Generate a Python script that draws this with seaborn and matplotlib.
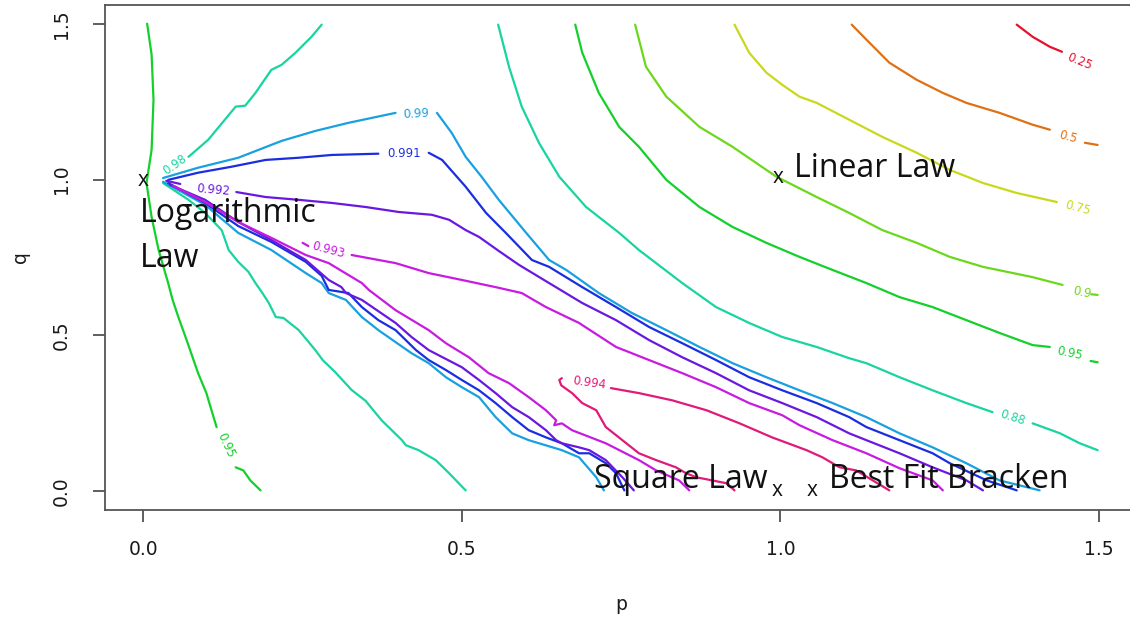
"""Contour map of fit quality over (p, q) with the named laws marked."""

import matplotlib
matplotlib.use("Agg")
import matplotlib.pyplot as plt
import pandas as pd
import seaborn as sns

# contour colours (R rainbow-style, as they look on screen)
LEVEL_COLOURS = {
    "0.25": "#e8102a", "0.5": "#e07014", "0.75": "#c9d81a", "0.9": "#6cd81c",
    "0.95": "#14d02a", "0.98": "#18d4a0", "0.99": "#18a0e0", "0.991": "#1a2ee0",
    "0.992": "#6a18e0", "0.993": "#c81ae0", "0.994": "#e01a78",
}

# contour paths as (p, q) points; a path stops where a label sits
C095_LEFT_A = [(0.006, 1.500), (0.013, 1.401), (0.016, 1.256), (0.013, 1.095), (0.005, 0.989),
               (0.013, 0.880), (0.024, 0.774), (0.039, 0.668), (0.046, 0.614), (0.055, 0.559),
               (0.068, 0.485), (0.086, 0.379), (0.099, 0.315), (0.115, 0.206)]
C095_LEFT_B = [(0.145, 0.077), (0.157, 0.067), (0.168, 0.035), (0.184, 0.003)]

C098_UPPER = [(0.071, 1.073), (0.102, 1.128), (0.145, 1.234), (0.160, 1.237), (0.176, 1.278),
              (0.201, 1.352), (0.217, 1.368), (0.239, 1.407), (0.264, 1.458), (0.280, 1.497)]
C098_LOWER = [(0.031, 0.989), (0.071, 0.935), (0.097, 0.893), (0.123, 0.838), (0.134, 0.774),
              (0.149, 0.736), (0.165, 0.704), (0.176, 0.668), (0.186, 0.639), (0.197, 0.604),
              (0.208, 0.559), (0.220, 0.556), (0.244, 0.517), (0.270, 0.453), (0.282, 0.420),
              (0.300, 0.385), (0.327, 0.325), (0.349, 0.290), (0.374, 0.228), (0.406, 0.164),
              (0.412, 0.148), (0.432, 0.132), (0.459, 0.100), (0.480, 0.058), (0.506, 0.003)]
C098_RIGHT_A = [(0.557, 1.497), (0.574, 1.362), (0.594, 1.234), (0.621, 1.118), (0.653, 1.009),
                (0.695, 0.912), (0.747, 0.829), (0.778, 0.774), (0.846, 0.668), (0.899, 0.591),
                (0.951, 0.540), (1.003, 0.495), (1.057, 0.463), (1.108, 0.427), (1.135, 0.411),
                (1.187, 0.366), (1.239, 0.324), (1.292, 0.283), (1.333, 0.254)]
C098_RIGHT_B = [(1.396, 0.218), (1.439, 0.186), (1.470, 0.154), (1.498, 0.132)]

C095_RIGHT_A = [(0.678, 1.497), (0.689, 1.407), (0.715, 1.278), (0.747, 1.169), (0.778, 1.105),
                (0.821, 0.999), (0.873, 0.912), (0.925, 0.848), (0.978, 0.797), (1.030, 0.752),
                (1.082, 0.710), (1.135, 0.668), (1.187, 0.623), (1.239, 0.591), (1.292, 0.549),
                (1.344, 0.508), (1.396, 0.469), (1.423, 0.463)]
C095_RIGHT_B = [(1.487, 0.418), (1.498, 0.414)]

C090_A = [(0.772, 1.497), (0.789, 1.362), (0.821, 1.266), (0.873, 1.169), (0.925, 1.105),
          (0.978, 1.031), (0.994, 1.009), (1.057, 0.944), (1.108, 0.893), (1.160, 0.838),
          (1.214, 0.797), (1.266, 0.752), (1.318, 0.720), (1.396, 0.687), (1.443, 0.662)]
C090_B = [(1.488, 0.632), (1.498, 0.630)]

C075 = [(0.928, 1.497), (0.951, 1.407), (0.978, 1.343), (1.003, 1.304), (1.030, 1.266),
        (1.057, 1.246), (1.108, 1.192), (1.160, 1.137), (1.214, 1.086), (1.266, 1.031),
        (1.318, 0.989), (1.371, 0.957), (1.434, 0.928)]

C050_A = [(1.112, 1.497), (1.135, 1.449), (1.171, 1.375), (1.214, 1.320), (1.255, 1.278),
          (1.292, 1.246), (1.344, 1.214), (1.396, 1.176), (1.423, 1.160)]
C050_B = [(1.478, 1.118), (1.498, 1.111)]

C025 = [(1.371, 1.497), (1.396, 1.458), (1.423, 1.426), (1.442, 1.410)]

C0990_A = [(0.031, 1.005), (0.086, 1.038), (0.149, 1.070), (0.217, 1.124), (0.270, 1.156),
           (0.322, 1.182), (0.396, 1.214)]
C0990_B = [(0.461, 1.214), (0.484, 1.150), (0.506, 1.073), (0.531, 1.009), (0.558, 0.935),
           (0.601, 0.829), (0.637, 0.742), (0.664, 0.710), (0.715, 0.636), (0.767, 0.572),
           (0.821, 0.517), (0.873, 0.463), (0.925, 0.411), (0.978, 0.366), (1.030, 0.324),
           (1.082, 0.283), (1.135, 0.238), (1.187, 0.186), (1.239, 0.141), (1.292, 0.090),
           (1.344, 0.035), (1.407, 0.003)]
C0990_C = [(0.031, 0.993), (0.097, 0.919), (0.149, 0.829), (0.201, 0.774), (0.255, 0.700),
           (0.280, 0.668), (0.291, 0.636), (0.318, 0.614), (0.343, 0.559), (0.369, 0.517),
           (0.421, 0.443), (0.448, 0.411), (0.475, 0.366), (0.500, 0.334), (0.527, 0.302),
           (0.553, 0.238), (0.579, 0.186), (0.605, 0.164), (0.657, 0.132), (0.684, 0.109),
           (0.711, 0.045), (0.723, 0.003)]

C0991_A = [(0.039, 0.999), (0.086, 1.022), (0.138, 1.041), (0.192, 1.063), (0.244, 1.070),
           (0.296, 1.079), (0.369, 1.083)]
C0991_B = [(0.448, 1.086), (0.469, 1.063), (0.506, 0.977), (0.538, 0.893), (0.569, 0.829),
           (0.610, 0.742), (0.637, 0.720), (0.689, 0.655), (0.742, 0.591), (0.794, 0.527),
           (0.846, 0.475), (0.899, 0.421), (0.951, 0.366), (1.003, 0.324), (1.057, 0.283),
           (1.108, 0.238), (1.135, 0.206), (1.187, 0.164), (1.239, 0.122), (1.266, 0.090),
           (1.324, 0.035), (1.371, 0.003)]
C0991_C = [(0.039, 0.989), (0.097, 0.925), (0.149, 0.851), (0.201, 0.800), (0.255, 0.736),
           (0.280, 0.691), (0.291, 0.646), (0.322, 0.636), (0.343, 0.591), (0.369, 0.549),
           (0.396, 0.517), (0.428, 0.453), (0.448, 0.421), (0.475, 0.389), (0.500, 0.357),
           (0.527, 0.324), (0.553, 0.283), (0.579, 0.238), (0.605, 0.196), (0.632, 0.173),
           (0.657, 0.154), (0.684, 0.122), (0.700, 0.122), (0.726, 0.090), (0.742, 0.058),
           (0.755, 0.003)]

C0992_A = [(0.036, 0.996), (0.058, 0.986)]
C0992_B = [(0.146, 0.960), (0.192, 0.944), (0.244, 0.935), (0.296, 0.925), (0.349, 0.912),
           (0.401, 0.896), (0.453, 0.887), (0.480, 0.871), (0.506, 0.838), (0.527, 0.816),
           (0.558, 0.771), (0.590, 0.726), (0.637, 0.668), (0.689, 0.604), (0.742, 0.549),
           (0.794, 0.485), (0.846, 0.430), (0.899, 0.379), (0.951, 0.324), (1.003, 0.283),
           (1.057, 0.238), (1.108, 0.186), (1.135, 0.164), (1.187, 0.122), (1.239, 0.077),
           (1.292, 0.035), (1.318, 0.003)]
C0992_C = [(0.042, 0.983), (0.097, 0.935), (0.149, 0.864), (0.201, 0.806), (0.255, 0.742),
           (0.291, 0.678), (0.311, 0.655), (0.318, 0.636), (0.343, 0.614), (0.396, 0.540),
           (0.421, 0.495), (0.448, 0.453), (0.500, 0.398), (0.527, 0.357), (0.553, 0.315),
           (0.579, 0.270), (0.605, 0.238), (0.632, 0.196), (0.648, 0.164), (0.657, 0.154),
           (0.684, 0.141), (0.700, 0.132), (0.726, 0.100), (0.752, 0.045), (0.770, 0.003)]

C0993_A = [(0.250, 0.797), (0.259, 0.787)]
C0993_B = [(0.327, 0.758), (0.396, 0.732), (0.448, 0.700), (0.500, 0.678), (0.553, 0.655),
           (0.594, 0.636), (0.632, 0.591), (0.684, 0.540), (0.742, 0.463), (0.794, 0.421),
           (0.846, 0.379), (0.899, 0.334), (0.951, 0.283), (1.003, 0.244), (1.030, 0.212),
           (1.082, 0.164), (1.135, 0.122), (1.187, 0.074), (1.239, 0.035), (1.255, 0.003)]
C0993_C = [(0.047, 0.980), (0.097, 0.928), (0.149, 0.864), (0.201, 0.813), (0.255, 0.758),
           (0.291, 0.732), (0.343, 0.668), (0.354, 0.646), (0.396, 0.581), (0.448, 0.517),
           (0.475, 0.475), (0.511, 0.430), (0.542, 0.379), (0.574, 0.347), (0.605, 0.302),
           (0.632, 0.260), (0.648, 0.228), (0.645, 0.212), (0.657, 0.218), (0.673, 0.196),
           (0.726, 0.154), (0.778, 0.100), (0.805, 0.067), (0.841, 0.035), (0.857, 0.003)]

C0994_A = [(0.657, 0.363), (0.653, 0.357), (0.656, 0.340), (0.673, 0.315), (0.689, 0.283),
           (0.711, 0.260), (0.726, 0.206), (0.752, 0.164), (0.778, 0.122), (0.805, 0.100),
           (0.836, 0.077), (0.852, 0.058), (0.868, 0.045), (0.893, 0.035), (0.915, 0.026),
           (0.928, 0.003)]
C0994_B = [(0.734, 0.331), (0.778, 0.315), (0.830, 0.292), (0.884, 0.260), (0.936, 0.218),
           (0.987, 0.173), (1.041, 0.132), (1.066, 0.109), (1.093, 0.077), (1.119, 0.067),
           (1.171, 0.003)]

CONTOURS = [
    ("0.95", C095_LEFT_A), ("0.95", C095_LEFT_B), ("0.98", C098_UPPER), ("0.98", C098_LOWER),
    ("0.98", C098_RIGHT_A), ("0.98", C098_RIGHT_B), ("0.95", C095_RIGHT_A), ("0.95", C095_RIGHT_B),
    ("0.9", C090_A), ("0.9", C090_B), ("0.75", C075), ("0.5", C050_A), ("0.5", C050_B),
    ("0.25", C025), ("0.99", C0990_A), ("0.99", C0990_B), ("0.99", C0990_C),
    ("0.991", C0991_A), ("0.991", C0991_B), ("0.991", C0991_C),
    ("0.992", C0992_A), ("0.992", C0992_B), ("0.992", C0992_C),
    ("0.993", C0993_A), ("0.993", C0993_B), ("0.993", C0993_C),
    ("0.994", C0994_A), ("0.994", C0994_B),
]

# contour labels: text, level, p, q, angle
CONTOUR_LABELS = [
    ("0.95", "0.95", 0.129, 0.148, -65), ("0.98", "0.98", 0.050, 1.047, 35),
    ("0.88", "0.98", 1.365, 0.235, -18), ("0.95", "0.95", 1.454, 0.443, -12),
    ("0.9", "0.9", 1.473, 0.639, -12), ("0.75", "0.75", 1.467, 0.909, -15),
    ("0.5", "0.5", 1.451, 1.137, -15), ("0.25", "0.25", 1.470, 1.378, -22),
    ("0.99", "0.99", 0.428, 1.210, 3), ("0.991", "0.991", 0.409, 1.083, 0),
    ("0.992", "0.992", 0.110, 0.967, -5), ("0.993", "0.993", 0.291, 0.774, -15),
    ("0.994", "0.994", 0.700, 0.347, -8),
]

# named laws: text, p, q (left edge / baseline)
LAW_NAMES = [("Logarithmic", -0.005, 0.864), ("Law", -0.005, 0.720),
             ("Linear Law", 1.022, 1.009), ("Square Law", 0.708, 0.010),
             ("Best Fit Bracken", 1.077, 0.010)]
LAW_POINTS_P = [0.0, 0.997, 0.995, 1.050]
LAW_POINTS_Q = [0.980, 0.989, -0.016, -0.016]


def main():
    rows = []
    for i, (level, path) in enumerate(CONTOURS):
        for p, q in path:
            rows.append({"p": p, "q": q, "level": level, "seg": i})
    df = pd.DataFrame(rows)

    sns.set_theme(style="white")
    plt.rcParams["font.family"] = ["DejaVu Sans"]

    fig = plt.figure(figsize=(11.3, 6.17), dpi=100)
    ax = fig.add_axes([0.093, 0.1734, 0.9133, 0.8185])

    sns.lineplot(data=df, x="p", y="q", hue="level", units="seg", estimator=None,
                 sort=False, palette=LEVEL_COLOURS, legend=False, lw=1.6, ax=ax)

    for text, level, p, q, ang in CONTOUR_LABELS:
        ax.text(p, q, text, color=LEVEL_COLOURS[level], fontsize=8.4, rotation=ang,
                ha="center", va="center", rotation_mode="anchor")

    for text, p, q in LAW_NAMES:
        ax.text(p, q, text, fontsize=23, family="Open Sans", color="#111", ha="left",
                va="baseline", zorder=5)
    for p, q in zip(LAW_POINTS_P, LAW_POINTS_Q):
        ax.text(p, q, "x", fontsize=15, family="Open Sans", color="#111", ha="center",
                va="baseline", zorder=5)

    ax.set_xlim(-0.06, 1.56)
    ax.set_ylim(-0.06, 1.56)
    ax.set_xticks([0, 0.5, 1.0, 1.5])
    ax.set_yticks([0, 0.5, 1.0, 1.5])
    ax.set_xticklabels(["0.0", "0.5", "1.0", "1.5"])
    ax.set_yticklabels(["0.0", "0.5", "1.0", "1.5"], rotation=90, va="center")
    ax.tick_params(axis="both", direction="out", length=8.6, width=1.1, color="#333",
                   labelsize=13.5, labelcolor="#1a1a1a", left=True, bottom=True)
    ax.tick_params(axis="x", pad=13)
    ax.tick_params(axis="y", pad=16)
    for side in ax.spines.values():
        side.set_color("#555")
        side.set_linewidth(1.3)
    ax.set_xlabel("p", fontsize=13.5, color="#1a1a1a", labelpad=26)
    ax.set_ylabel("q", fontsize=13.5, color="#1a1a1a", labelpad=16)

    fig.savefig("out.png", dpi=100)
    plt.close(fig)


if __name__ == "__main__":
    main()
